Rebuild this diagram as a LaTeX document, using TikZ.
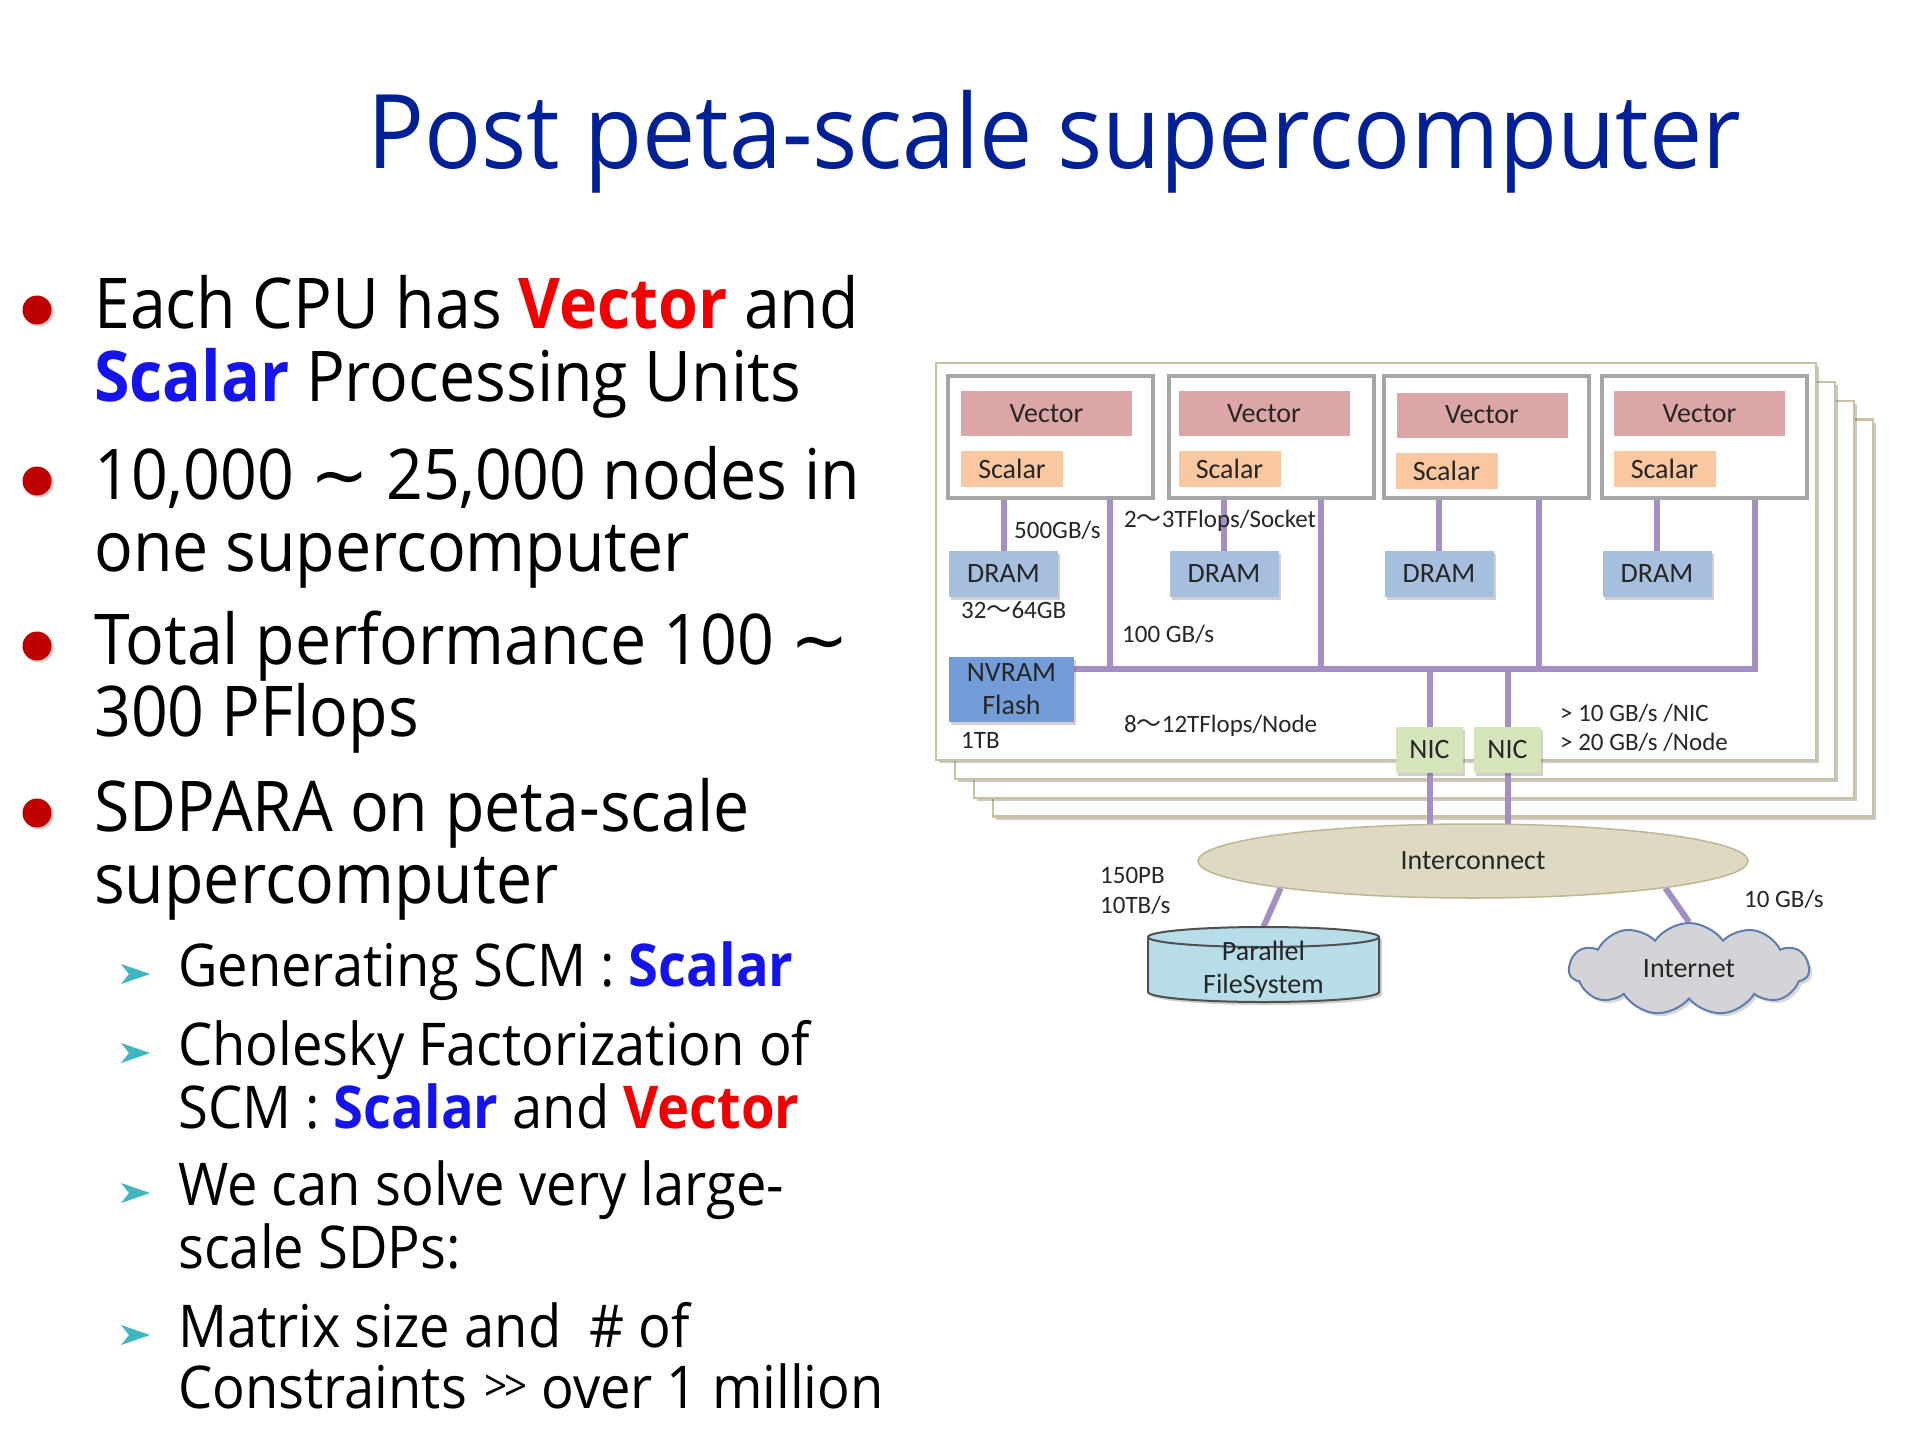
\documentclass[tikz,border=0pt]{standalone}
\usepackage{fontspec}
\usetikzlibrary{shapes.geometric,shapes.symbols,shadows}
\newfontfamily\slidefont[FakeStretch=0.92]{Open Sans}
\newfontfamily\labelfont{Carlito}
\newfontfamily\cjkfont{Noto Sans CJK JP}
\newfontfamily\djvfont{DejaVu Sans}
\definecolor{titleblue}{RGB}{0,32,150}
\definecolor{vred}{RGB}{240,0,0}
\definecolor{vblue}{RGB}{20,20,235}
\definecolor{dotred}{RGB}{192,0,0}
\definecolor{tealarrow}{RGB}{64,182,192}
\definecolor{boardline}{RGB}{200,194,160}
\definecolor{cpuline}{RGB}{166,166,166}
\definecolor{vecfill}{RGB}{221,166,166}
\definecolor{scafill}{RGB}{250,200,160}
\definecolor{dramfill}{RGB}{167,191,222}
\definecolor{nvfill}{RGB}{115,156,216}
\definecolor{nicfill}{RGB}{214,228,188}
\definecolor{lineviolet}{RGB}{164,142,196}
\definecolor{icfill}{RGB}{221,217,195}
\definecolor{icline}{RGB}{190,182,146}
\definecolor{pfsfill}{RGB}{183,222,232}
\definecolor{pfsline}{RGB}{80,80,80}
\definecolor{cloudfill}{RGB}{212,212,216}
\definecolor{cloudline}{RGB}{95,125,175}
\definecolor{labeltext}{RGB}{38,38,38}
\newcommand{\wv}{{\cjkfont 〜}}
\pgfdeclarelayer{bg}
\pgfdeclarelayer{boards}
\pgfdeclarelayer{lines}
\pgfsetlayers{bg,boards,lines,main}
\tikzset{
  board/.style={rectangle, draw=boardline, line width=2.5pt, fill=white, inner sep=0,
    minimum width=880pt, minimum height=397pt,
    drop shadow={shadow xshift=3pt, shadow yshift=-3pt, opacity=0.35, fill=black!60}},
  cpubox/.style={rectangle, draw=cpuline, line width=4pt, fill=white, inner sep=0,
    minimum width=205pt, minimum height=122pt,
    drop shadow={shadow xshift=2pt, shadow yshift=-2pt, opacity=0.25, fill=black!60}},
  boxlabel/.style={font=\labelfont\fontsize{28}{33}\selectfont, text=labeltext},
  vecbox/.style={rectangle, fill=vecfill, inner sep=0, minimum width=171pt, minimum height=45pt, boxlabel},
  scabox/.style={rectangle, fill=scafill, inner sep=0, minimum width=102pt, minimum height=36pt, boxlabel},
  drambox/.style={rectangle, fill=dramfill, inner sep=0, minimum width=109pt, minimum height=46pt, boxlabel,
    drop shadow={shadow xshift=2pt, shadow yshift=-3pt, opacity=0.3, fill=black!60}},
  nicbox/.style={rectangle, fill=nicfill, inner sep=0, minimum width=67pt, minimum height=46pt, boxlabel,
    drop shadow={shadow xshift=2pt, shadow yshift=-3pt, opacity=0.3, fill=black!60}},
  pline/.style={draw=lineviolet, line width=6pt},
  lbl/.style={font=\labelfont\fontsize{25}{30}\selectfont, text=labeltext, anchor=base west, inner sep=0},
  maintxt/.style={font=\slidefont\fontsize{70}{84}\selectfont, anchor=base west, inner sep=0},
  subtxt/.style={font=\slidefont\fontsize{59}{70}\selectfont, anchor=base west, inner sep=0},
  dot/.style={circle, fill=dotred, inner sep=0, minimum size=29pt,
    drop shadow={shadow xshift=2pt, shadow yshift=-2pt, opacity=0.3, fill=black!60}},
}
\begin{document}
\begin{tikzpicture}[x=1pt,y=-1pt]
\begin{pgfonlayer}{bg}
\fill[white] (0,0) rectangle (1920,1440);
\end{pgfonlayer}
\useasboundingbox (0,0) rectangle (1920,1440);

% title
\node[anchor=base west, font=\slidefont\fontsize{103}{120}\selectfont, text=titleblue, inner sep=0]
  (title) at (367,168) {Post peta-scale supercomputer};

% bullets
\node[dot] (d1) at (37,310) {};
\node[dot] (d2) at (37,481) {};
\node[dot] (d3) at (37,646) {};
\node[dot] (d4) at (37,813) {};
\node[maintxt] (l1) at (94,328) {Each CPU has {\bfseries\color{vred}Vector} and};
\node[maintxt] (l2) at (94,401) {{\bfseries\color{vblue}Scalar} Processing Units};
\node[maintxt] (l3) at (94,499) {10,000 {\djvfont ∼} 25,000 nodes in};
\node[maintxt] (l4) at (94,571) {one supercomputer};
\node[maintxt] (l5) at (94,664) {Total performance 100 {\djvfont ∼}};
\node[maintxt] (l6) at (94,736) {300 PFlops};
\node[maintxt] (l7) at (94,831) {SDPARA on peta-scale};
\node[maintxt] (l8) at (94,903) {supercomputer};

% sub bullets
\foreach \b in {986,1065,1205,1347}{
  \fill[tealarrow] (121,\b-22) -- (150,\b-12) -- (121,\b-2) -- (129,\b-12) -- cycle;
}
\node[subtxt] (s1) at (178,986) {Generating SCM : {\bfseries\color{vblue}Scalar}};
\node[subtxt] (s2) at (178,1065) {Cholesky Factorization of};
\node[subtxt] (s3) at (178,1128) {SCM : {\bfseries\color{vblue}Scalar} and {\bfseries\color{vred}Vector}};
\node[subtxt] (s4) at (178,1205) {We can solve very large-};
\node[subtxt] (s5) at (178,1268) {scale SDPs:};
\node[subtxt] (s6) at (178,1347) {Matrix size and \ \# of};
\node[subtxt] (s7) at (178,1408) {Constraints\hspace{18pt}\raisebox{7pt}{\fontsize{44}{44}\selectfont >\kern-4pt>} over 1 million};

% boards
\begin{pgfonlayer}{boards}
\node[board] (bd4) at (1433,618) {};
\node[board] (bd3) at (1414,599.5) {};
\node[board] (bd2) at (1395,580.5) {};
\node[board] (bd1) at (1376,561.5) {};
\end{pgfonlayer}

% CPUs
\node[cpubox] (cpu1) at (1050.5,437) {};
\node[cpubox] (cpu2) at (1271,437) {};
\node[cpubox] (cpu3) at (1486,437) {};
\node[cpubox] (cpu4) at (1704.5,437) {};
\node[vecbox] (vec1) at (1046.5,413.5) {Vector};
\node[vecbox] (vec2) at (1264,413.5) {Vector};
\node[vecbox] (vec3) at (1482,415) {Vector};
\node[vecbox] (vec4) at (1699.5,413.5) {Vector};
\node[scabox] (sca1) at (1012,469) {Scalar};
\node[scabox] (sca2) at (1229.5,469) {Scalar};
\node[scabox] (sca3) at (1446.5,471) {Scalar};
\node[scabox] (sca4) at (1664.5,469) {Scalar};

% DRAM, NVRAM, NIC
\node[drambox] (dram1) at (1003.5,574) {DRAM};
\node[drambox] (dram2) at (1224,574) {DRAM};
\node[drambox] (dram3) at (1439,574) {DRAM};
\node[drambox] (dram4) at (1657,574) {DRAM};
\node[rectangle, fill=nvfill, inner sep=0, minimum width=125pt, minimum height=65pt, boxlabel, align=center,
  drop shadow={shadow xshift=2pt, shadow yshift=-3pt, opacity=0.3, fill=black!60}]
  (nvram) at (1011.5,689.5) {NVRAM\\Flash};
\node[nicbox] (nic1) at (1429.5,750) {NIC};
\node[nicbox] (nic2) at (1507.5,750) {NIC};

% interconnect, storage, internet
\node[ellipse, draw=icline, fill=icfill, line width=1.5pt, minimum width=550pt, minimum height=74pt,
  inner sep=0, boxlabel] (ic) at (1473,861) {Interconnect};
\path[draw=pfsline, fill=pfsfill, line width=2pt,
  drop shadow={shadow xshift=3pt, shadow yshift=-3pt, opacity=0.3, fill=black!60}]
  (1148,937) -- (1148,992) arc[start angle=180, end angle=360, x radius=115.5pt, y radius=10pt]
  -- (1379,937) arc[start angle=0, end angle=180, x radius=115.5pt, y radius=10pt] -- cycle;
\draw[pfsline, line width=2pt] (1148,937) arc[start angle=180, end angle=360, x radius=115.5pt, y radius=10pt];
\node[rectangle, inner sep=0, minimum width=231pt, minimum height=75pt] (pfs) at (1263.5,964.5) {};
\node[boxlabel, align=center, inner sep=0] (pfstext) at (1263.5,970) {Parallel\\FileSystem};
\node[cloud, cloud puffs=11, cloud puff arc=110, aspect=2.5, draw=cloudline, fill=cloudfill, line width=2pt,
  minimum width=240pt, minimum height=92pt, inner sep=0, boxlabel,
  drop shadow={shadow xshift=3pt, shadow yshift=-3pt, opacity=0.25, fill=black!60}] (inet) at (1689,969) {Internet};

% connectors
\coordinate (j1) at (1110,669);
\coordinate (j2) at (1321,669);
\coordinate (j3) at (1539,669);
\coordinate (j4) at (1755,669);
\begin{pgfonlayer}{lines}
\draw[pline] (dram1.north |- cpu1.south) -- (dram1.north);
\draw[pline] (dram2.north |- cpu2.south) -- (dram2.north);
\draw[pline] (dram3.north |- cpu3.south) -- (dram3.north);
\draw[pline] (dram4.north |- cpu4.south) -- (dram4.north);
\draw[pline] (j1 |- cpu1.south) -- (j1);
\draw[pline] (j2 |- cpu2.south) -- (j2);
\draw[pline] (j3 |- cpu3.south) -- (j3);
\draw[pline, miter limit=10] (nvram.east |- j4) -- (j4) -- (j4 |- cpu4.south);
\draw[pline] (nic1.north |- j1) -- (nic1.north);
\draw[pline] (nic2.north |- j1) -- (nic2.north);
\draw[pline] (nic1.south) -- (nic1.south |- ic.center);
\draw[pline] (nic2.south) -- (nic2.south |- ic.center);
\draw[pline] (ic.188) -- (pfs.north);
\draw[pline] (ic.352) -- (inet.north);
\end{pgfonlayer}

% labels
\node[lbl] (t500) at (1014,538) {500GB/s};
\node[lbl] (tsock) at (1124,527) {2\wv 3TFlops/Socket};
\node[lbl] (tgb) at (961,618) {32\wv 64GB};
\node[lbl] (t100) at (1122,642) {100 GB/s};
\node[lbl] (tnode) at (1124,732) {8\wv 12TFlops/Node};
\node[lbl] (t1tb) at (961,748) {1TB};
\node[lbl] (tnic) at (1560,721) {> 10 GB/s /NIC};
\node[lbl] (tnodebw) at (1560,750) {> 20 GB/s /Node};
\node[lbl] (t150) at (1100,883) {150PB};
\node[lbl] (t10tb) at (1100,913) {10TB/s};
\node[lbl] (t10gb) at (1744,907) {10 GB/s};
\end{tikzpicture}
\end{document}
